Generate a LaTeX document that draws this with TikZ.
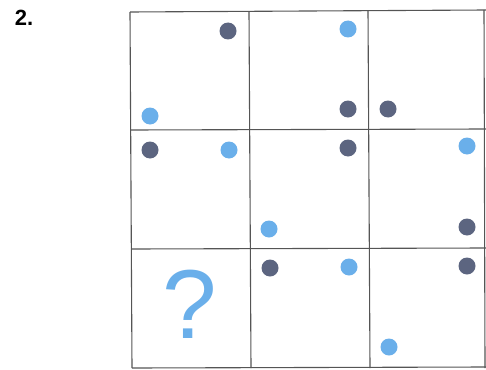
\documentclass[tikz,border=0pt]{standalone}
\usepackage{fontspec}
\setmainfont{Liberation Sans}
\definecolor{dotblue}{HTML}{6AAFEA}
\definecolor{dotdark}{HTML}{5C6580}
\definecolor{gridc}{HTML}{555555}
\begin{document}
\begin{tikzpicture}[x=1pt,y=-1pt,
  gridline/.style={draw=gridc,line width=1.1pt},
  bdot/.style={circle,fill=dotblue,inner sep=0pt,minimum size=17pt},
  ddot/.style={circle,fill=dotdark,inner sep=0pt,minimum size=17pt}]
\useasboundingbox (0,0) rectangle (486,369);
% grid
\draw[gridline] (130,12) -- (486,10);
\draw[gridline] (130,130) -- (486,129);
\draw[gridline] (131,249) -- (486,248);
\draw[gridline] (132,368) -- (486,367);
\draw[gridline] (130,12) -- (132,368);
\draw[gridline] (249,12) -- (251,368);
\draw[gridline] (368,11) -- (370,368);
\draw[gridline] (484,10) -- (485,368);
% label
\node[font=\bfseries\fontsize{22}{22}\selectfont,anchor=center] (lbl) at (24,18) {2.};
% row 1
\node[ddot] (d11) at (228,31) {};
\node[bdot] (b11) at (150,116) {};
\node[bdot] (b12) at (348,29) {};
\node[ddot] (d12) at (348,109) {};
\node[ddot] (d13) at (388,109) {};
% row 2
\node[ddot] (d21) at (150,150) {};
\node[bdot] (b21) at (229,150) {};
\node[ddot] (d22) at (348,148) {};
\node[bdot] (b22) at (269,229) {};
\node[bdot] (b23) at (467,146) {};
\node[ddot] (d23) at (467,227) {};
% row 3
\node[text=dotblue,font=\fontsize{98}{98}\selectfont,inner sep=0pt] (q) at (190,304) {?};
\node[ddot] (d32) at (270,268) {};
\node[bdot] (b32) at (349,267) {};
\node[ddot] (d33) at (467,266) {};
\node[bdot] (b33) at (389,347) {};
\end{tikzpicture}
\end{document}
